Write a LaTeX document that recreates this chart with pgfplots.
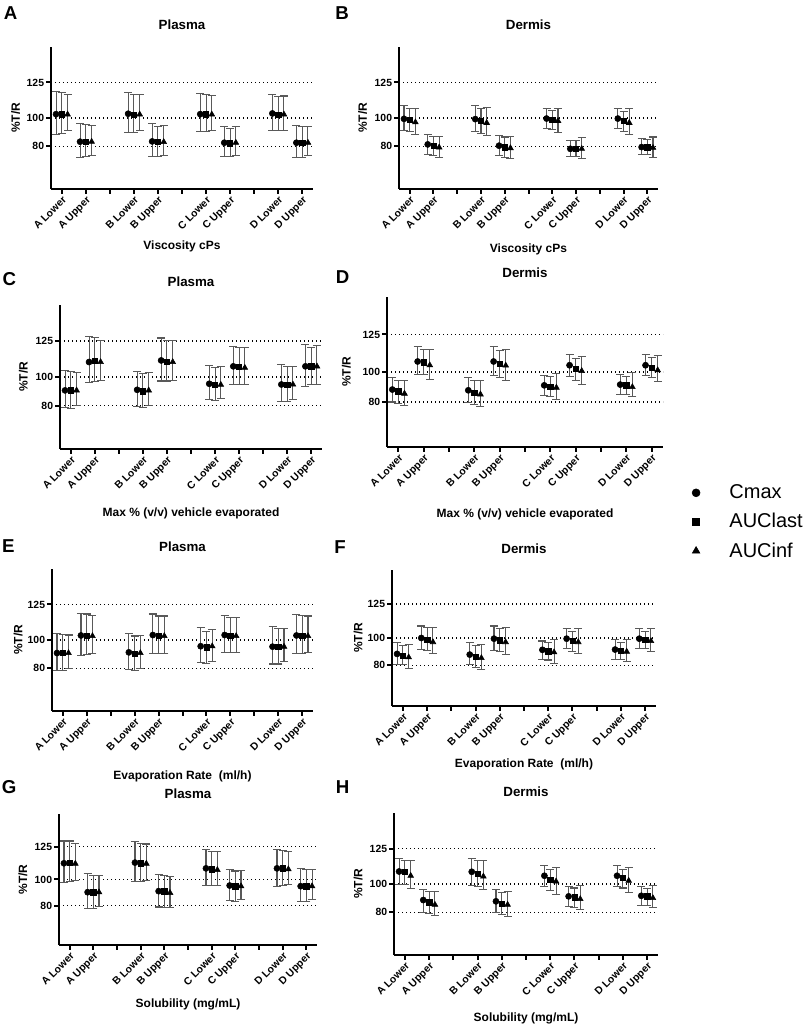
\documentclass[border=0pt]{standalone}
\usepackage{fontspec}
\setmainfont{Liberation Sans}
\usepackage{pgfplots}
\usepackage{pgfplotstable}
\pgfplotsset{compat=1.18}

% columns: x, circle (Cmax) value/low/high, square (AUClast), triangle (AUCinf)
\pgfplotstableread{
x c cl ch s sl sh t tl th
1 102.7 88.7 118.4 102.7 89.0 118.1 102.5 90.9 116.5
2 83.3 72.2 95.9 83.3 72.7 95.4 83.3 73.6 94.9
4 103.0 89.7 118.1 102.5 89.7 116.5 102.5 90.9 116.5
5 83.5 72.6 95.9 83.1 73.1 94.2 83.1 73.6 94.7
7 102.7 90.2 117.4 102.7 90.6 116.7 102.5 91.4 116.0
8 82.6 73.1 93.7 82.3 73.1 92.8 82.6 73.8 93.7
10 103.2 90.9 116.7 102.5 90.9 115.0 102.5 91.4 115.5
11 82.6 72.2 94.4 82.6 72.4 94.2 82.6 73.8 93.7
}\tabA
\pgfplotstableread{
x c cl ch s sl sh t tl th
1 99.4 90.9 108.9 98.9 90.6 107.0 97.0 88.5 107.0
2 81.4 74.0 88.5 80.5 73.3 87.1 79.3 71.9 87.1
4 99.2 90.6 108.9 98.0 89.0 107.0 96.6 87.8 107.5
5 80.5 73.3 88.0 79.5 72.4 86.6 78.8 71.2 87.1
7 99.6 92.5 106.8 98.9 91.8 105.6 98.0 89.9 106.8
8 78.3 72.9 84.2 78.3 72.9 84.2 78.3 71.2 86.1
10 99.6 92.5 106.8 98.0 90.6 104.9 96.6 88.5 106.8
11 79.5 74.3 85.4 79.5 74.3 84.7 79.0 72.4 86.6
}\tabB
\pgfplotstableread{
x c cl ch s sl sh t tl th
1 90.7 78.6 104.6 90.7 78.1 103.7 90.7 80.2 103.0
2 110.4 96.0 127.8 111.5 96.9 127.3 110.4 97.6 125.5
4 91.1 79.8 104.1 90.2 79.1 102.3 90.7 80.2 103.0
5 111.5 97.2 127.1 110.4 97.2 125.5 110.4 97.6 125.5
7 95.3 84.2 108.1 94.6 83.7 106.9 94.6 84.9 107.4
8 107.4 94.8 121.5 106.9 94.8 120.4 106.4 94.8 120.4
10 94.8 83.2 108.5 94.8 83.2 107.4 94.8 84.6 107.4
11 107.4 93.7 122.4 107.4 94.6 120.8 107.4 94.6 122.0
}\tabC
\pgfplotstableread{
x c cl ch s sl sh t tl th
1 88.3 80.0 96.3 87.1 79.3 94.1 85.6 77.8 94.5
2 107.0 98.3 116.8 106.5 98.3 115.0 104.5 95.2 115.0
4 87.8 79.8 96.3 86.0 78.5 94.1 85.1 77.1 94.5
5 107.0 97.4 116.8 105.6 96.1 114.5 104.3 94.5 115.2
7 91.1 84.5 97.8 90.0 83.8 96.7 89.6 81.6 99.0
8 104.5 96.7 111.9 102.3 94.5 109.0 100.7 91.8 110.5
10 91.6 85.1 98.3 91.1 85.1 97.2 90.0 83.4 99.4
11 104.5 97.4 111.6 103.0 96.1 109.6 101.2 93.8 111.2
}\tabD
\pgfplotstableread{
x c cl ch s sl sh t tl th
1 90.8 78.3 104.7 90.8 78.3 104.0 90.8 80.0 103.5
2 103.2 89.1 118.8 103.2 90.1 118.3 102.8 90.8 117.1
4 91.3 79.5 104.4 90.4 78.8 102.8 90.8 80.0 103.2
5 103.5 90.3 118.3 102.8 90.8 116.9 102.8 90.8 116.9
7 95.6 84.1 108.5 94.9 83.7 106.3 95.6 84.6 107.5
8 103.5 91.3 117.1 102.8 91.3 115.9 102.8 91.3 116.1
10 95.3 83.1 109.2 95.3 83.1 108.0 95.3 84.6 108.0
11 103.2 90.3 117.8 103.2 90.8 117.3 102.8 91.5 116.9
}\tabE
\pgfplotstableread{
x c cl ch s sl sh t tl th
1 88.3 80.8 96.5 87.0 80.3 94.5 85.8 77.8 95.0
2 100.0 91.3 108.8 98.8 90.8 107.5 97.0 88.3 107.5
4 87.8 80.3 96.5 86.3 78.3 94.5 85.3 77.0 95.0
5 99.5 90.8 108.8 98.3 89.8 106.8 97.0 87.8 107.8
7 91.3 84.5 97.8 90.3 83.8 97.0 89.5 81.5 98.8
8 99.5 92.0 107.0 97.8 90.3 105.0 97.0 88.3 107.0
10 91.5 84.5 98.8 90.8 84.5 97.0 90.0 82.8 99.0
11 99.5 92.5 107.0 98.8 92.3 105.0 97.8 89.8 107.0
}\tabF
\pgfplotstableread{
x c cl ch s sl sh t tl th
1 112.4 97.5 129.4 112.9 98.8 129.4 112.1 99.3 127.6
2 90.3 78.2 104.4 90.3 78.2 103.4 90.3 79.5 103.1
4 112.9 98.8 129.1 112.4 98.8 127.6 112.1 99.3 127.1
5 91.1 79.0 103.9 91.1 78.7 103.1 89.8 78.7 102.1
7 108.5 95.7 122.7 107.8 95.7 121.4 107.3 95.7 121.4
8 95.4 83.9 107.8 94.9 83.4 106.5 94.9 84.4 107.0
10 108.5 94.7 123.2 108.5 95.2 122.4 107.8 96.2 121.4
11 94.9 83.4 108.5 94.9 83.4 107.5 94.9 84.4 107.5
}\tabG
\pgfplotstableread{
x c cl ch s sl sh t tl th
1 108.8 99.5 118.2 108.4 99.5 116.8 105.8 96.9 116.8
2 88.7 80.0 96.4 87.1 79.3 94.8 85.4 77.7 94.8
4 108.6 99.2 118.2 107.0 98.1 116.3 105.3 96.0 116.8
5 87.8 80.0 96.2 86.3 78.4 94.1 85.4 77.2 94.8
7 105.8 98.1 113.3 102.8 95.7 110.5 101.8 92.9 111.7
8 91.3 84.2 98.1 90.6 83.5 97.2 89.4 81.9 98.8
10 105.8 98.1 113.3 104.6 97.2 110.5 102.3 94.1 111.7
11 91.7 85.0 98.1 91.3 85.0 97.0 90.1 83.5 98.8
}\tabH

\pgfplotsset{
  panel/.style={
    scale only axis, clip=false,
    xmin=0.55, xmax=11.45, ymin=50, ymax=150,
    axis x line*=bottom, axis y line*=left,
    axis line style={line width=1.5pt, black},
    xtick={1,2,3,4,5,6,7,8,9,10,11},
    xticklabels={A Lower,A Upper,,B Lower,B Upper,,C Lower,C Upper,,D Lower,D Upper},
    ytick={80,100,125},
    tick align=outside,
    major tick length=3.5pt,
    every tick/.style={black, line width=1.5pt},
    ymajorgrids,
    major grid style={black, line width=1pt, dash pattern=on 1pt off 2pt},
    /pgf/number format/assume math mode=true,
    yticklabel style={font=\bfseries\fontsize{7.8}{8}\selectfont, inner sep=1.5pt},
    xticklabel style={font=\bfseries\fontsize{7.8}{8}\selectfont, rotate=45, anchor=north east, inner sep=1pt},
    every axis title/.style={at={(0.5,1)}, anchor=center, font=\bfseries\fontsize{10}{12}\selectfont},
    xlabel style={font=\bfseries\fontsize{9}{11}\selectfont, anchor=center},
    ylabel style={font=\bfseries\fontsize{9}{11}\selectfont, anchor=center},
    ylabel={\%T/R},
  },
  errb/.style={error bars/.cd, y dir=both, y explicit,
    error bar style={line width=0.8pt, black!65},
    error mark options={rotate=90, line width=0.8pt, black!65, mark size=3pt}},
  cser/.style={only marks, mark=*, mark size=2.3pt, black, mark options={fill=black}, errb},
  sser/.style={only marks, mark=square*, mark size=2pt, black, mark options={fill=black}, errb},
  tser/.style={only marks, mark=triangle*, mark size=2.5pt, black, mark options={fill=black}, errb},
}

\newcommand{\threeseries}[1]{%
\addplot[cser] table[x expr=\thisrow{x}-0.24, y=c, y error plus expr=\thisrow{ch}-\thisrow{c}, y error minus expr=\thisrow{c}-\thisrow{cl}] {#1};
\addplot[sser] table[x=x, y=s, y error plus expr=\thisrow{sh}-\thisrow{s}, y error minus expr=\thisrow{s}-\thisrow{sl}] {#1};
\addplot[tser] table[x expr=\thisrow{x}+0.24, y=t, y error plus expr=\thisrow{th}-\thisrow{t}, y error minus expr=\thisrow{t}-\thisrow{tl}] {#1};
}

\begin{document}
\begin{tikzpicture}
\useasboundingbox (0,0) rectangle (606.75pt,768.75pt);

% A
\begin{axis}[panel, at={(38.25pt,627pt)}, anchor=south west, width=196.5pt, height=106.5pt,
  title={Plasma}, title style={at={(0.5,1.155)}},
  xlabel={Viscosity cPs}, xlabel style={at={(axis description cs:0.5,-0.405)}},
  ylabel style={at={(axis description cs:-0.135,0.5)}}]
\threeseries{\tabA}
\end{axis}
% B
\begin{axis}[panel, at={(299.25pt,627pt)}, anchor=south west, width=194.25pt, height=106.5pt,
  title={Dermis}, title style={at={(0.5,1.155)}},
  xlabel={Viscosity cPs}, xlabel style={at={(axis description cs:0.5,-0.425)}},
  ylabel style={at={(axis description cs:-0.14,0.5)}}]
\threeseries{\tabB}
\end{axis}
% C
\begin{axis}[panel, at={(45pt,432pt)}, anchor=south west, width=196.5pt, height=108pt,
  title={Plasma}, title style={at={(0.5,1.16)}},
  xlabel={Max \% (v/v) vehicle evaporated}, xlabel style={at={(axis description cs:0.5,-0.45)}},
  ylabel style={at={(axis description cs:-0.14,0.5)}}]
\threeseries{\tabC}
\end{axis}
% D (with legend)
\begin{axis}[panel, at={(290.25pt,433.5pt)}, anchor=south west, width=207pt, height=112.5pt,
  title={Dermis}, title style={at={(0.5,1.16)}},
  xlabel={Max \% (v/v) vehicle evaporated}, xlabel style={at={(axis description cs:0.5,-0.45)}},
  ylabel style={at={(axis description cs:-0.147,0.5)}},
  legend entries={Cmax,AUClast,AUCinf},
  legend cell align=left,
  legend image code/.code={\draw[#1] plot coordinates {(0pt,0pt)};},
  legend image post style={/tikz/every mark/.append style={scale=1.3}},
  legend style={draw=none, fill=none, at={(axis description cs:1.09,-0.5)}, anchor=west,
    font=\fontsize{15}{18}\selectfont, row sep=5.5pt,
    /tikz/every odd column/.append style={column sep=20pt}}]
\threeseries{\tabD}
\end{axis}
% E
\begin{axis}[panel, at={(39pt,235.5pt)}, anchor=south west, width=195.75pt, height=106.5pt,
  title={Plasma}, title style={at={(0.5,1.155)}},
  xlabel={Evaporation Rate~~(ml/h)}, xlabel style={at={(axis description cs:0.5,-0.46)}},
  ylabel style={at={(axis description cs:-0.13,0.5)}}]
\threeseries{\tabE}
\end{axis}
% F
\begin{axis}[panel, at={(294pt,239.25pt)}, anchor=south west, width=198pt, height=102pt,
  title={Dermis}, title style={at={(0.5,1.154)}},
  xlabel={Evaporation Rate~~(ml/h)}, xlabel style={at={(axis description cs:0.5,-0.428)}},
  ylabel style={at={(axis description cs:-0.128,0.5)}}]
\threeseries{\tabF}
\end{axis}
% G
\begin{axis}[panel, at={(44.25pt,60pt)}, anchor=south west, width=193.5pt, height=98.25pt,
  title={Plasma}, title style={at={(0.5,1.153)}},
  xlabel={Solubility (mg/mL)}, xlabel style={at={(axis description cs:0.5,-0.452)}},
  ylabel style={at={(axis description cs:-0.14,0.5)}}]
\threeseries{\tabG}
\end{axis}
% H
\begin{axis}[panel, at={(295.5pt,52.5pt)}, anchor=south west, width=198pt, height=106.5pt,
  title={Dermis}, title style={at={(0.5,1.148)}},
  xlabel={Solubility (mg/mL)}, xlabel style={at={(axis description cs:0.5,-0.45)}},
  ylabel style={at={(axis description cs:-0.136,0.5)}}]
\threeseries{\tabH}
\end{axis}

% panel letters
\begin{scope}[every node/.style={font=\bfseries\fontsize{14}{14}\selectfont, inner sep=0pt}]
\node at (7.9pt,758.6pt) {A};
\node at (256.5pt,759pt) {B};
\node at (7.1pt,559.5pt) {C};
\node at (256.9pt,561.2pt) {D};
\node at (6.2pt,359.4pt) {E};
\node at (255pt,358.5pt) {F};
\node at (6.9pt,178.7pt) {G};
\node at (256.9pt,178.7pt) {H};
\end{scope}
\end{tikzpicture}
\end{document}
